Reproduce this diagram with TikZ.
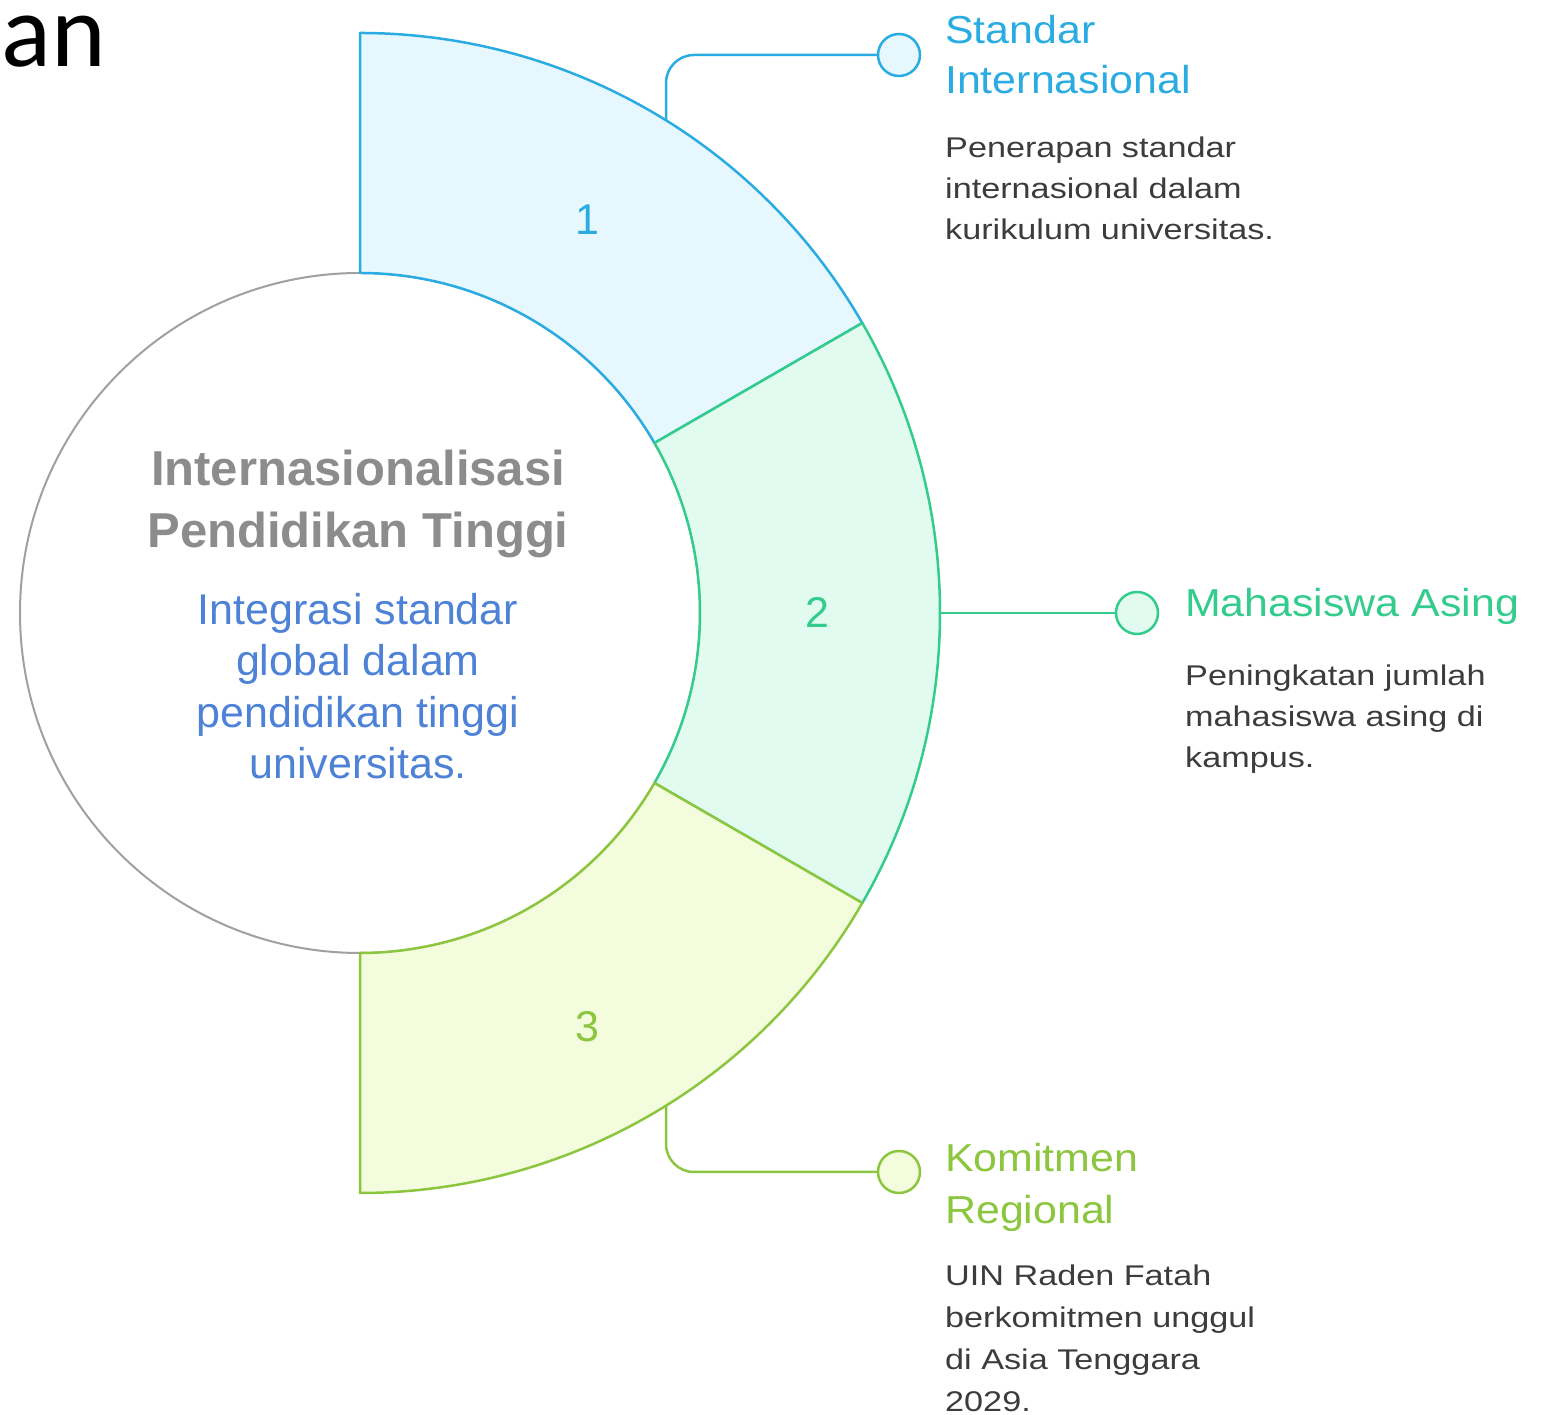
\documentclass[tikz,border=0pt]{standalone}
\usepackage{fontspec}
\setmainfont{Liberation Sans}
\newfontfamily\descfont[FakeStretch=1.2]{Liberation Sans}
\newfontfamily\headfont[FakeStretch=1.1]{Liberation Sans}
\newfontfamily\anfont{Carlito}
\definecolor{blueS}{HTML}{2AACE2}
\definecolor{blueF}{HTML}{E6F7FD}
\definecolor{greenS}{HTML}{33CC8C}
\definecolor{greenF}{HTML}{E2FBF1}
\definecolor{ygS}{HTML}{8CC63F}
\definecolor{ygF}{HTML}{F3FCDD}
\definecolor{circgray}{HTML}{A0A0A0}
\definecolor{titlegray}{HTML}{8C8C8C}
\definecolor{subblue}{HTML}{4D82D6}
\definecolor{desctext}{HTML}{3C3C3C}
\begin{document}
\begin{tikzpicture}[x=1pt,y=1pt,
  ringseg/.style={line width=2.5pt, line join=round},
  dotnode/.style={circle, line width=2.5pt, minimum size=42pt, inner sep=0pt},
  conn/.style={line width=2.5pt, rounded corners=28pt},
  headtext/.style={anchor=base west, inner sep=0pt, font=\headfont\fontsize{39}{46}\selectfont},
  desctxt/.style={anchor=base west, inner sep=0pt, text=desctext, font=\descfont\fontsize{28.5}{34}\selectfont},
  numtxt/.style={inner sep=0pt, font=\fontsize{43}{50}\selectfont},
  hubtitle/.style={anchor=base, inner sep=0pt, text=titlegray, font=\bfseries\fontsize{49}{58}\selectfont},
  hubsub/.style={anchor=base, inner sep=0pt, text=subblue, font=\fontsize{43}{50}\selectfont}
]
\useasboundingbox (0,0) rectangle (1543,1415);
\coordinate (C) at (360,802);

% top-left title fragment
\node[anchor=base west, inner sep=0pt, text height=52pt, text depth=0pt, font=\anfont\fontsize{104}{120}\selectfont] (frag) at (1,1348) {an};

% hub circle
\node[circle, draw=circgray, fill=white, line width=2pt, minimum size=680pt, inner sep=0pt] (hub) at (C) {};

% ring segments
\draw[ringseg, draw=blueS, fill=blueF]
  ([shift={(30:340)}]C) -- ([shift={(30:580)}]C)
  arc[start angle=30, end angle=90, radius=580]
  -- ([shift={(90:340)}]C)
  arc[start angle=90, end angle=30, radius=340] -- cycle;
\draw[ringseg, draw=greenS, fill=greenF]
  ([shift={(-30:340)}]C) -- ([shift={(-30:580)}]C)
  arc[start angle=-30, end angle=30, radius=580]
  -- ([shift={(30:340)}]C)
  arc[start angle=30, end angle=-30, radius=340] -- cycle;
\draw[ringseg, draw=ygS, fill=ygF]
  ([shift={(-90:340)}]C) -- ([shift={(-90:580)}]C)
  arc[start angle=-90, end angle=-30, radius=580]
  -- ([shift={(-30:340)}]C)
  arc[start angle=-30, end angle=-90, radius=340] -- cycle;

% numbers
\node[numtxt, text=blueS] (n1) at (587,1195) {1};
\node[numtxt, text=greenS] (n2) at (817,802) {2};
\node[numtxt, text=ygS] (n3) at (587,388) {3};

% connector end points on the outer arc
\coordinate (c1s) at (666,1294.7);
\coordinate (c2s) at (940,802);
\coordinate (c3s) at (666,309.3);

% dots
\node[dotnode, draw=blueS, fill=blueF] (d1) at (899,1360) {};
\node[dotnode, draw=greenS, fill=greenF] (d2) at (1137,802) {};
\node[dotnode, draw=ygS, fill=ygF] (d3) at (899,243) {};

% connectors
\draw[conn, draw=blueS] (c1s) |- (d1.west);
\draw[conn, draw=greenS] (c2s) -- (d2.west);
\draw[conn, draw=ygS] (c3s) |- (d3.west);

% hub texts
\node[hubtitle] (h1) at (358,929) {Internasionalisasi};
\node[hubtitle] (h2) at (358,867) {Pendidikan Tinggi};
\node[hubsub] (s1) at (358,790) {Integrasi standar};
\node[hubsub] (s2) at (358,739) {global dalam};
\node[hubsub] (s3) at (358,687) {pendidikan tinggi};
\node[hubsub] (s4) at (358,636) {universitas.};

% item 1
\node[headtext, text=blueS] (t1a) at (945,1371) {Standar};
\node[headtext, text=blueS] (t1b) at (945,1321) {Internasional};
\node[desctxt] (e1a) at (945,1257) {Penerapan standar};
\node[desctxt] (e1b) at (945,1216) {internasional dalam};
\node[desctxt] (e1c) at (945,1175) {kurikulum universitas.};

% item 2
\node[headtext, text=greenS] (t2a) at (1185,798) {Mahasiswa Asing};
\node[desctxt] (e2a) at (1185,729) {Peningkatan jumlah};
\node[desctxt] (e2b) at (1185,688) {mahasiswa asing di};
\node[desctxt] (e2c) at (1185,647) {kampus.};

% item 3
\node[headtext, text=ygS] (t3a) at (945,243) {Komitmen};
\node[headtext, text=ygS] (t3b) at (945,191) {Regional};
\node[desctxt] (e3a) at (945,129) {UIN Raden Fatah};
\node[desctxt] (e3b) at (945,87) {berkomitmen unggul};
\node[desctxt] (e3c) at (945,45) {di Asia Tenggara};
\node[desctxt] (e3d) at (945,3) {2029.};
\end{tikzpicture}
\end{document}
